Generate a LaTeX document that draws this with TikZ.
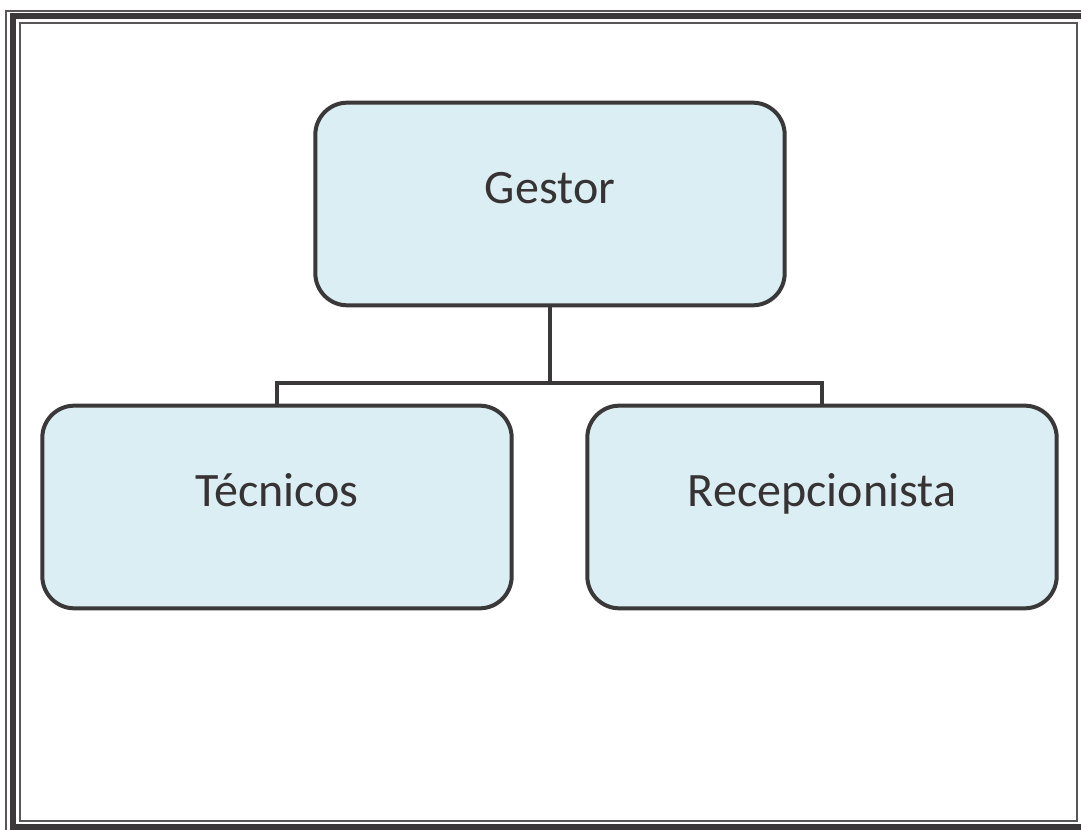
\documentclass[tikz,border=0pt]{standalone}
\usepackage{fontspec}
\setmainfont{Carlito}
\usepackage{xcolor}
\definecolor{boxfill}{RGB}{218,238,243}
\definecolor{boxline}{RGB}{58,56,57}
\definecolor{textgray}{RGB}{55,50,52}
\usepackage{tikz}
\usetikzlibrary{positioning, calc}

\begin{document}
\begin{tikzpicture}[
    x=0.75pt, y=-0.75pt,
    font=\fontsize{36}{43}\selectfont,
    rolebox/.style={draw=boxline, line width=3pt, rectangle, rounded corners=24pt, fill=boxfill, text=textgray, minimum width=352pt, minimum height=152pt, text height=12pt, text depth=13pt, align=center},
    linkline/.style={draw=boxline, line width=3pt},
    framethin/.style={draw=boxline!85, line width=1.6pt},
    framethick/.style={draw=boxline, line width=4pt}
  ]

  \useasboundingbox (0,0) rectangle (1081,830);

  % double frame round the chart
  \begin{scope}
    \clip (0,0) rectangle (1081,830);
    \draw[framethin] (6,11) rectangle (1092,834);
    \draw[framethick] (13,16) rectangle (1085,827);
    \draw[framethin] (20,23) rectangle (1077,821);
  \end{scope}

  \node (gestor) [rolebox] at (550,204) {Gestor};
  \node (tecnicos) [rolebox] at (277,507) {Técnicos};
  \node (recep) [rolebox] at (822,507) {Recepcionista};

  \coordinate (bar) at (550,383);

  \draw[linkline] (gestor.south) -- (bar);
  \draw[linkline] (bar) -| (tecnicos.north);
  \draw[linkline] (bar) -| (recep.north);

\end{tikzpicture}
\end{document}
